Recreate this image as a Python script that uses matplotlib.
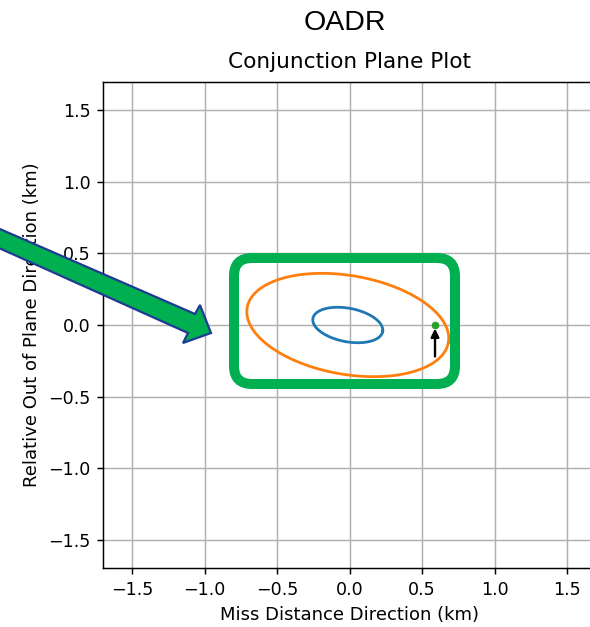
import numpy as np
import matplotlib
matplotlib.use("Agg")
import matplotlib.pyplot as plt
from matplotlib.patches import FancyBboxPatch, Polygon
from matplotlib.transforms import Affine2D

# ---- data ----
ellipse_centers = [(-0.013, 0.0), (-0.013, 0.0)]
ellipse_semi_major = [0.245, 0.705]
ellipse_semi_minor = [0.117, 0.345]
ellipse_angles = [-11.0, -10.0]
ellipse_colors = ["#1f77b4", "#ff7f0e"]

point_x = [0.589]
point_y = [0.0]
arrow_tail = (0.589, -0.22)
arrow_vec = (0.0, 0.195)

ticks = [-1.5, -1.0, -0.5, 0.0, 0.5, 1.0, 1.5]
lims = (-1.7, 1.7)

W, H = 590, 627
fig = plt.figure(figsize=(W / 100, H / 100), dpi=100)
fig.patch.set_facecolor("white")

# axes placement (pixels in image coords)
axL, axR, axT, axB = 103.3, 596.0, 81.7, 568.3
ax = fig.add_axes([axL / W, 1 - axB / H, (axR - axL) / W, (axB - axT) / H])
ax.set_xlim(*lims)
ax.set_ylim(*lims)
ax.set_xticks(ticks)
ax.set_yticks(ticks)
ax.grid(True, color="#b0b0b0", lw=1.05)
ax.set_axisbelow(True)
for s in ax.spines.values():
    s.set_linewidth(1.05)
ax.tick_params(labelsize=12.6, length=4.5, width=1.05, pad=4.5)

for c, a, b, ang, col in zip(ellipse_centers, ellipse_semi_major, ellipse_semi_minor,
                             ellipse_angles, ellipse_colors):
    t = np.linspace(0, 2 * np.pi, 400)
    r = np.deg2rad(ang)
    xs = c[0] + a * np.cos(t) * np.cos(r) - b * np.sin(t) * np.sin(r)
    ys = c[1] + a * np.cos(t) * np.sin(r) + b * np.sin(t) * np.cos(r)
    ax.plot(xs, ys, color=col, lw=2.0)

ax.plot(point_x, point_y, "o", color="#2ca02c", ms=4.5, zorder=5)
ax.annotate("", xy=(arrow_tail[0] + arrow_vec[0], arrow_tail[1] + arrow_vec[1]),
            xytext=arrow_tail,
            arrowprops=dict(arrowstyle="-|>", color="black", lw=1.7,
                            mutation_scale=12, shrinkA=0, shrinkB=0), zorder=6)

ax.set_title("Conjunction Plane Plot", fontsize=15.6, pad=9.6)
ax.set_xlabel("Miss Distance Direction (km)", fontsize=13, labelpad=5)
ax.set_ylabel("Relative Out of Plane Direction (km)", fontsize=13, labelpad=5)

# slide annotations in image-pixel coordinates
pix = Affine2D().scale(1 / W, -1 / H).translate(0, 1) + fig.transFigure

fig.text(345 / W, 1 - 30 / H, "OADR", fontsize=20.5, family="Liberation Sans",
         ha="center", va="baseline")

rect = FancyBboxPatch((252, 276), 185, 90,
                      boxstyle="round,pad=18",
                      transform=pix, fill=False, edgecolor="#00B050",
                      lw=7.2, zorder=10, clip_on=False)
fig.patches.append(rect)

arrow_pts = [(-30, 216), (195, 314), (200, 305), (211, 333), (183, 343),
             (188, 333), (-30, 235)]
arr = Polygon(arrow_pts, closed=True, transform=pix, facecolor="#00B050",
              edgecolor="#1F3A93", lw=1.6, zorder=11, clip_on=False)
fig.patches.append(arr)

fig.savefig("out.png", dpi=100)
